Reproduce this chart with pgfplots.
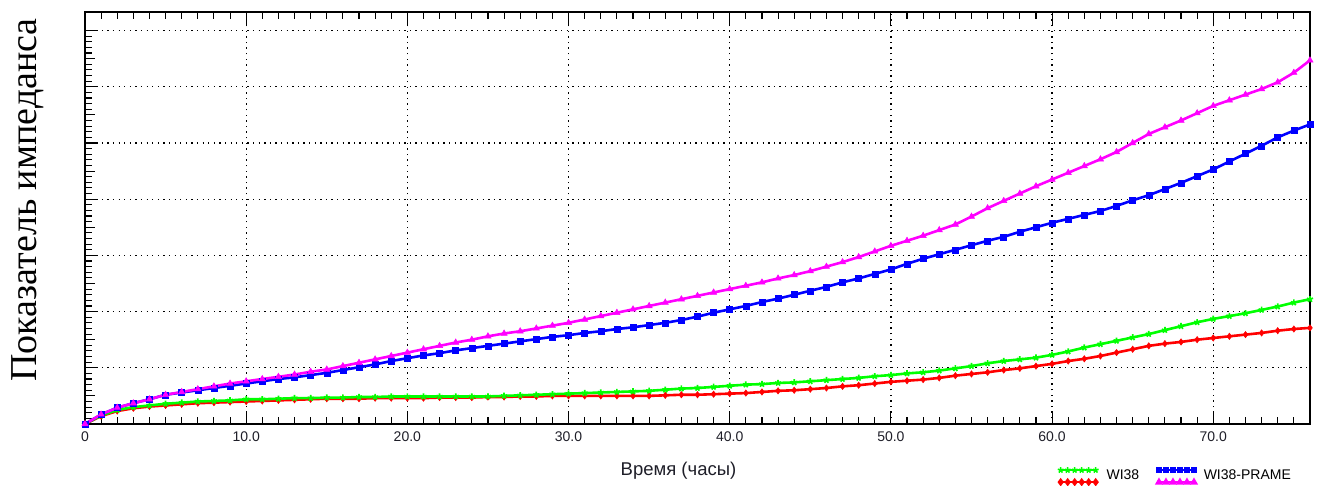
\documentclass[border=0pt]{standalone}
\usepackage{pgfplots}
\usepackage{pgfplotstable}
\pgfplotsset{compat=1.18}
\usepackage{fontspec}
\setmainfont{Liberation Sans}
\newfontfamily\serifcyr{Liberation Serif}

\definecolor{cG}{RGB}{0,255,0}
\definecolor{cR}{RGB}{255,0,0}
\definecolor{cB}{RGB}{0,0,255}
\definecolor{cM}{RGB}{255,0,255}
\definecolor{ticktxt}{RGB}{30,30,40}

% t (hours), WI38 (two wells: G, R), WI38-PRAME (two wells: B, M)
\pgfplotstableread{
t  G    R    B    M
0  0.00 0.00 0.00 0.00
1  0.15 0.14 0.17 0.17
2  0.25 0.23 0.29 0.29
3  0.30 0.28 0.37 0.37
4  0.33 0.31 0.44 0.44
5  0.36 0.33 0.52 0.52
6  0.38 0.35 0.56 0.57
7  0.40 0.37 0.60 0.62
8  0.41 0.38 0.64 0.67
9  0.42 0.39 0.68 0.72
10 0.44 0.40 0.72 0.76
11 0.44 0.41 0.76 0.80
12 0.45 0.42 0.80 0.84
13 0.46 0.43 0.83 0.88
14 0.46 0.44 0.87 0.93
15 0.47 0.45 0.91 0.97
16 0.47 0.45 0.96 1.03
17 0.48 0.45 1.01 1.09
18 0.48 0.46 1.06 1.15
19 0.49 0.46 1.12 1.21
20 0.49 0.46 1.17 1.27
21 0.49 0.46 1.22 1.33
22 0.49 0.47 1.26 1.39
23 0.49 0.47 1.31 1.45
24 0.49 0.47 1.35 1.50
25 0.49 0.48 1.39 1.56
26 0.50 0.48 1.43 1.61
27 0.51 0.49 1.47 1.65
28 0.52 0.49 1.51 1.70
29 0.53 0.50 1.55 1.75
30 0.54 0.50 1.58 1.80
31 0.55 0.50 1.62 1.86
32 0.56 0.50 1.65 1.92
33 0.57 0.50 1.69 1.98
34 0.58 0.50 1.72 2.04
35 0.59 0.50 1.76 2.10
36 0.61 0.51 1.80 2.16
37 0.63 0.52 1.85 2.22
38 0.64 0.52 1.91 2.28
39 0.66 0.53 1.98 2.34
40 0.68 0.54 2.04 2.40
41 0.70 0.55 2.10 2.46
42 0.71 0.57 2.17 2.52
43 0.73 0.59 2.23 2.59
44 0.74 0.60 2.30 2.65
45 0.76 0.62 2.37 2.72
46 0.78 0.64 2.44 2.80
47 0.80 0.67 2.52 2.88
48 0.82 0.69 2.59 2.97
49 0.85 0.72 2.67 3.07
50 0.87 0.75 2.75 3.17
51 0.90 0.77 2.85 3.26
52 0.92 0.79 2.94 3.35
53 0.95 0.82 3.02 3.45
54 0.99 0.86 3.10 3.55
55 1.03 0.89 3.18 3.69
56 1.08 0.92 3.26 3.84
57 1.12 0.96 3.33 3.97
58 1.15 0.99 3.42 4.10
59 1.18 1.03 3.50 4.23
60 1.23 1.07 3.58 4.35
61 1.29 1.12 3.65 4.47
62 1.36 1.16 3.72 4.59
63 1.42 1.21 3.79 4.71
64 1.48 1.27 3.88 4.84
65 1.54 1.33 3.98 5.00
66 1.60 1.39 4.07 5.16
67 1.67 1.43 4.18 5.28
68 1.74 1.46 4.29 5.40
69 1.81 1.50 4.41 5.53
70 1.87 1.53 4.53 5.66
71 1.92 1.56 4.67 5.76
72 1.97 1.59 4.81 5.86
73 2.03 1.62 4.95 5.96
74 2.09 1.66 5.10 6.08
75 2.16 1.69 5.22 6.25
76 2.22 1.71 5.33 6.47
}\impdata

\begin{document}
\begin{tikzpicture}[x=1pt,y=1pt]
\begin{axis}[
  at={(0,0)}, anchor=south west,
  scale only axis,
  width=1225pt, height=412pt,
  xmin=0, xmax=76, ymin=0, ymax=7.33,
  xtick={0,10,...,70},
  xticklabels={0,10.0,20.0,30.0,40.0,50.0,60.0,70.0},
  minor xtick={0,1,...,76},
  ytick={0,1,...,7},
  yticklabels={},
  minor y tick num=9,
  extra y ticks={0.5,1.5,...,6.5},
  extra y tick style={grid=none, major tick length=10pt, yticklabel=\empty},
  xtick pos=both, ytick pos=left,
  tick align=inside,
  major tick length=13pt, minor tick length=7pt,
  tick style={black, line width=1.1pt},
  axis line style={black, line width=1.6pt},
  grid=major,
  major grid style={black, line width=1.3pt, dash pattern=on 1.3pt off 4.3pt},
  /pgf/number format/assume math mode=true,
  ticklabel style={font=\fontsize{14}{16}\selectfont, text=ticktxt},
  xticklabel style={yshift=-4pt},
  xlabel={Время (часы)},
  xlabel style={at={(rel axis cs:0.4845,0)}, anchor=center, yshift=-47pt,
    font=\fontsize{18.5}{20}\selectfont, text=ticktxt},
  ylabel={\serifcyr Показатель импеданса},
  ylabel style={at={(rel axis cs:-0.0465,0.544)}, anchor=center,
    font=\fontsize{38}{42}\selectfont},
  legend columns=2,
  legend style={at={(rel axis cs:0.794,-0.097)}, anchor=north west,
    draw=none, fill=none, inner sep=0pt, row sep=0pt,
    font=\fontsize{14}{16}\selectfont,
    nodes={inner sep=0pt, text height=8pt, text depth=4pt},
    /tikz/every even column/.append style={column sep=17pt}},
  legend image code/.code={%
    \draw[mark repeat=1,#1] plot coordinates
      {(0pt,0pt) (7pt,0pt) (14pt,0pt) (21pt,0pt) (28pt,0pt) (35pt,0pt)};},
  every axis plot/.append style={line width=2.6pt},
]
% legend: one label per column, sample pairs stacked
\addlegendimage{cG, line width=1.5pt, mark=star, mark size=3pt, mark options={line width=1.6pt}}
\addlegendentry{\hspace{8pt}\raisebox{-7pt}[0pt][0pt]{WI38}}
\addlegendimage{cB, line width=1.5pt, mark=square*, mark size=2.2pt}
\addlegendentry{\hspace{7pt}\raisebox{-7pt}[0pt][0pt]{WI38-PRAME}}
\addlegendimage{cR, line width=1.5pt, mark=diamond*, mark size=3pt}
\addlegendentry{}
\addlegendimage{cM, line width=1.5pt, mark=triangle*, mark size=3.2pt}
\addlegendentry{}

\addplot[cR, mark=diamond*, mark size=3.2pt, mark options={line width=0.5pt}, forget plot] table[x=t, y=R] {\impdata};
\addplot[cG, mark=star, mark size=3.2pt, mark options={line width=1.7pt}, forget plot] table[x=t, y=G] {\impdata};
\addplot[cB, mark=square*, mark size=3pt, mark options={line width=0.5pt}, forget plot] table[x=t, y=B] {\impdata};
\addplot[cM, mark=triangle*, mark size=3.6pt, mark options={line width=0.5pt}, forget plot] table[x=t, y=M] {\impdata};
\end{axis}
\pgfresetboundingbox
\path (-85pt,-62pt) rectangle (1240pt,424pt);
\end{tikzpicture}
\end{document}
